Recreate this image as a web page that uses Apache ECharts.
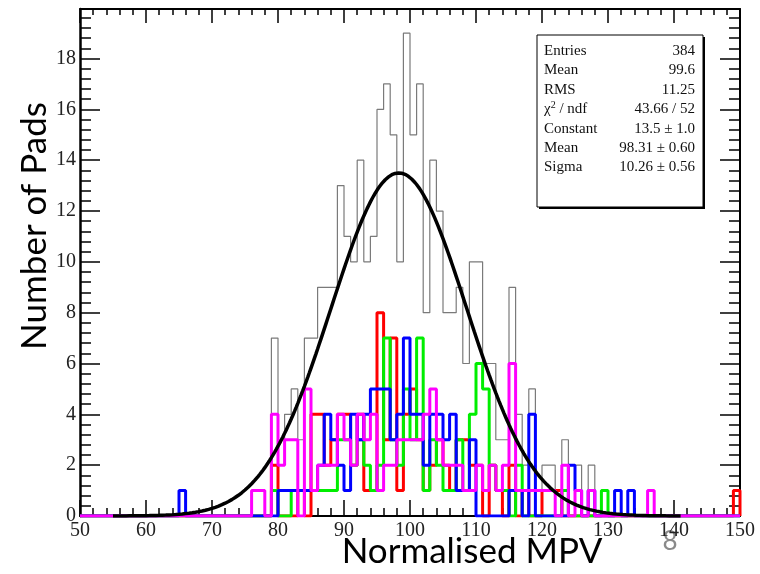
<!DOCTYPE html>
<html>
<head>
<meta charset="utf-8">
<script src="https://cdn.jsdelivr.net/npm/echarts@6/dist/echarts.min.js"></script>
<style>
  html, body { margin: 0; padding: 0; background: #fff; }
  #chart { width: 760px; height: 574px; }
</style>
</head>
<body>
<div id="chart"></div>
<script>
// bins of width 1, low edges 50 .. 149
const binStart = 50;

const allPads = [
  0, 0, 0, 0, 0, 0, 0, 0, 0, 0,
  0, 0, 0, 0, 0, 1, 0, 0, 0, 0,
  0, 0, 0, 0, 0, 0, 1, 1, 0, 7,
  3, 4, 5, 3, 7, 7, 9, 9, 9, 13,
  11, 10, 14, 10, 11, 16, 17, 15, 10, 19,
  15, 17, 8, 14, 12, 8, 8, 9, 6, 10,
  10, 6, 6, 3, 3, 9, 4, 2, 5, 1,
  2, 2, 1, 3, 2, 2, 0, 2, 0, 1,
  0, 1, 0, 1, 0, 0, 1, 0, 0, 0,
  0, 0, 0, 0, 0, 0, 0, 0, 0, 1
];

const redPads = [
  0, 0, 0, 0, 0, 0, 0, 0, 0, 0,
  0, 0, 0, 0, 0, 0, 0, 0, 0, 0,
  0, 0, 0, 0, 0, 0, 0, 0, 0, 2,
  0, 0, 0, 1, 0, 4, 4, 2, 3, 4,
  4, 2, 4, 1, 1, 8, 3, 7, 1, 4,
  5, 3, 1, 2, 3, 2, 1, 3, 3, 2,
  2, 0, 2, 1, 0, 2, 0, 1, 0, 0,
  1, 1, 1, 0, 0, 0, 0, 0, 0, 0,
  0, 0, 0, 0, 0, 0, 0, 0, 0, 0,
  0, 0, 0, 0, 0, 0, 0, 0, 0, 1
];

const greenPads = [
  0, 0, 0, 0, 0, 0, 0, 0, 0, 0,
  0, 0, 0, 0, 0, 0, 0, 0, 0, 0,
  0, 0, 0, 0, 0, 0, 0, 0, 0, 1,
  0, 0, 1, 1, 1, 1, 1, 1, 1, 3,
  3, 2, 3, 2, 1, 2, 7, 3, 2, 5,
  3, 7, 1, 3, 2, 1, 1, 3, 1, 4,
  6, 5, 2, 1, 1, 0, 2, 0, 0, 0,
  0, 0, 0, 1, 0, 0, 0, 0, 0, 1,
  0, 0, 0, 0, 0, 0, 0, 0, 0, 0,
  0, 0, 0, 0, 0, 0, 0, 0, 0, 0
];

const bluePads = [
  0, 0, 0, 0, 0, 0, 0, 0, 0, 0,
  0, 0, 0, 0, 0, 1, 0, 0, 0, 0,
  0, 0, 0, 0, 0, 0, 0, 0, 0, 0,
  1, 1, 1, 1, 1, 1, 2, 4, 3, 2,
  1, 4, 3, 4, 5, 5, 5, 3, 4, 7,
  4, 4, 2, 4, 4, 3, 4, 1, 1, 3,
  0, 0, 0, 0, 0, 1, 1, 0, 4, 0,
  0, 0, 0, 0, 2, 1, 0, 1, 0, 0,
  0, 1, 0, 1, 0, 0, 0, 0, 0, 0,
  0, 0, 0, 0, 0, 0, 0, 0, 0, 0
];

const magentaPads = [
  0, 0, 0, 0, 0, 0, 0, 0, 0, 0,
  0, 0, 0, 0, 0, 0, 0, 0, 0, 0,
  0, 0, 0, 0, 0, 0, 1, 1, 0, 4,
  2, 3, 3, 0, 5, 1, 2, 2, 2, 4,
  3, 2, 4, 3, 4, 1, 2, 2, 3, 3,
  3, 3, 4, 5, 3, 2, 2, 2, 1, 1,
  2, 1, 2, 1, 2, 6, 1, 1, 1, 1,
  1, 1, 0, 2, 0, 1, 0, 1, 0, 0,
  0, 0, 0, 0, 0, 0, 1, 0, 0, 0,
  0, 0, 0, 0, 0, 0, 0, 0, 0, 0
];

// gaussian fit parameters, as printed in the stats box
const fitConstant = 13.5;
const fitMean = 98.31;
const fitSigma = 10.26;
const fitRange = [55, 141];

const statsRows = [
  ["Entries", "384"],
  ["Mean", "99.6"],
  ["RMS", "11.25"],
  ["{g|χ}{sup|2}{g| / ndf}", "43.66 / 52"],
  ["Constant", "13.5 ± 1.0"],
  ["Mean", "98.31 ± 0.60"],
  ["Sigma", "10.26 ± 0.56"]
];

function steps(counts) {
  const pts = counts.map((c, i) => [binStart + i, c]);
  pts.push([binStart + counts.length, 0]);
  return pts;
}

const fitPoints = [];
for (let x = fitRange[0]; x <= fitRange[1]; x += 0.25) {
  const z = (x - fitMean) / fitSigma;
  fitPoints.push([x, fitConstant * Math.exp(-0.5 * z * z)]);
}

const serif = "Liberation Serif";

function histo(name, counts, color, width) {
  return {
    name: name, type: "line", step: "end", data: steps(counts),
    showSymbol: false, silent: true, clip: true,
    lineStyle: { color: color, width: width }
  };
}

const statsGraphics = [
  { type: "rect", shape: { x: 539, y: 37, width: 166, height: 172 }, style: { fill: "#000" }, z: 100 },
  { type: "rect", shape: { x: 537, y: 35, width: 166, height: 172 }, style: { fill: "#fff", stroke: "#000", lineWidth: 1 }, z: 101 }
];
statsRows.forEach((row, i) => {
  const y = 51 + i * 19.4;
  statsGraphics.push({
    type: "text", x: 544, y: y, z: 102,
    style: {
      text: row[0], fontFamily: serif, fontSize: 15, fill: "#111", verticalAlign: "middle",
      rich: {
        g: { fontFamily: serif, fontSize: 15, fill: "#111" },
        sup: { fontFamily: serif, fontSize: 10, fill: "#111", verticalAlign: "top", padding: [0, 0, 8, 0] }
      }
    }
  });
  statsGraphics.push({
    type: "text", x: 695, y: y, z: 102,
    style: { text: row[1], fontFamily: serif, fontSize: 15, fill: "#111", align: "right", verticalAlign: "middle" }
  });
});

const chart = echarts.init(document.getElementById("chart"));
chart.setOption({
  animation: false,
  backgroundColor: "#fff",
  grid: { left: 80, right: 20, top: 9, bottom: 58 },
  xAxis: [
    {
      type: "value", min: 50, max: 150, interval: 10, position: "bottom",
      axisLine: { onZero: false, lineStyle: { color: "#000", width: 2 } },
      axisTick: { inside: true, length: 16, lineStyle: { color: "#000", width: 1.5 } },
      minorTick: { show: true, splitNumber: 5, length: 8, lineStyle: { color: "#000", width: 1.5 } },
      axisLabel: { fontFamily: serif, fontSize: 20, color: "#222", margin: 5 },
      splitLine: { show: false }
    },
    {
      type: "value", min: 50, max: 150, interval: 10, position: "top",
      axisLine: { onZero: false, lineStyle: { color: "#000", width: 2 } },
      axisTick: { inside: true, length: 14, lineStyle: { color: "#000", width: 1.5 } },
      minorTick: { show: true, splitNumber: 5, length: 6, lineStyle: { color: "#000", width: 1.5 } },
      axisLabel: { show: false },
      splitLine: { show: false }
    }
  ],
  yAxis: [
    {
      type: "value", min: 0, max: 19.95, interval: 2, position: "left",
      axisLine: { show: true, onZero: false, lineStyle: { color: "#000", width: 2.5 } },
      axisTick: { show: true, inside: true, length: 20, lineStyle: { color: "#000", width: 1.5 } },
      minorTick: { show: true, splitNumber: 5, length: 11, lineStyle: { color: "#000", width: 1.5 } },
      axisLabel: {
        fontFamily: serif, fontSize: 20, color: "#222", margin: 4, showMaxLabel: false,
        formatter: v => (v % 2 === 0 ? String(v) : "")
      },
      splitLine: { show: false }
    },
    {
      type: "value", min: 0, max: 19.95, interval: 2, position: "right",
      axisLine: { show: true, onZero: false, lineStyle: { color: "#000", width: 2 } },
      axisTick: { show: true, inside: true, length: 20, lineStyle: { color: "#000", width: 1.5 } },
      minorTick: { show: true, splitNumber: 5, length: 11, lineStyle: { color: "#000", width: 1.5 } },
      axisLabel: { show: false },
      splitLine: { show: false }
    }
  ],
  series: [
    histo("all", allPads, "#7a7a7a", 1.2),
    histo("red", redPads, "#ff0000", 3),
    histo("green", greenPads, "#00ee00", 3),
    histo("blue", bluePads, "#0000ff", 3),
    histo("magenta", magentaPads, "#ff00ff", 3),
    {
      name: "fit", type: "line", data: fitPoints, showSymbol: false, silent: true, smooth: false,
      lineStyle: { color: "#000", width: 3.5 }
    }
  ],
  graphic: statsGraphics.concat([
    {
      type: "text", x: 35, y: 226, rotation: Math.PI / 2,
      style: { text: "Number of Pads", fontFamily: "Lato", fontSize: 35, fill: "#000", align: "center", verticalAlign: "middle" }
    },
    {
      type: "text", x: 472, y: 552,
      style: { text: "Normalised MPV", fontFamily: "Lato", fontSize: 35, fill: "#000", align: "center", verticalAlign: "middle" }
    },
    {
      type: "text", x: 670, y: 542,
      style: { text: "8", fontFamily: "Lato", fontSize: 26, fill: "#8a8a8a", align: "center", verticalAlign: "middle" }
    }
  ])
});
</script>
</body>
</html>
